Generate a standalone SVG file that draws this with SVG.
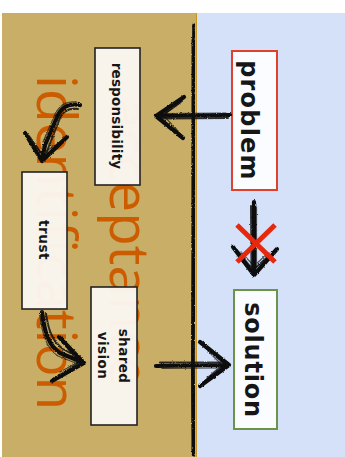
<svg xmlns="http://www.w3.org/2000/svg" width="345" height="457" viewBox="0 0 345 457">
<defs>
<filter id="rough" x="-20%" y="-20%" width="140%" height="140%">
<feTurbulence type="fractalNoise" baseFrequency="0.9" numOctaves="2" seed="3" result="n"/>
<feDisplacementMap in="SourceGraphic" in2="n" scale="2.5" xChannelSelector="R" yChannelSelector="G"/>
</filter>
<style>
.big{font-family:"Open Sans","DejaVu Sans",sans-serif;font-weight:400;font-size:55px;fill:#cc5c00}
.lbl{font-family:"DejaVu Sans","Liberation Sans",sans-serif;font-weight:bold;fill:#161616;text-anchor:middle}
.sm{font-size:13.5px}
.lg{font-size:24px}
.card{fill:#fbf8f3;fill-opacity:0.95;stroke:#222;stroke-width:1.6}
.brush{fill:none;stroke:#111;stroke-linecap:round;stroke-linejoin:round}
.w1{stroke-width:4.2}
.w2{stroke-width:2;stroke-opacity:0.85}
.w3{stroke-width:1.2;stroke-opacity:0.7}
</style>
</defs>
<rect x="0" y="0" width="345" height="457" fill="#ffffff"/>
<rect x="2" y="13" width="195" height="444" fill="#c9ae68"/>
<rect x="197" y="13" width="148" height="444" fill="#d4e1f9"/>
<line x1="196.5" y1="13" x2="196.5" y2="457" stroke="#c8951e" stroke-width="1"/>

<g id="background-text">
<text class="big" transform="translate(110,98) rotate(90)">acceptance</text>
<text class="big" transform="translate(37,75) rotate(90)">identification</text>
</g>

<g id="divider" filter="url(#rough)">
<path class="brush" stroke-width="3.6" d="M194,25 C193.5,100 194.6,200 193.4,300 S194.2,420 193.6,455"/>
<path class="brush w2" d="M192.4,40 C192,120 192.8,220 192.2,320 S192.6,420 192.4,450"/>
</g>

<g id="node-responsibility">
<rect class="card" x="95" y="48" width="45" height="137"/>
<text class="lbl sm" letter-spacing="0.2" transform="translate(112,116) rotate(90)">responsibility</text>
</g>
<g id="node-trust">
<rect class="card" x="22" y="172" width="45" height="137"/>
<text class="lbl sm" letter-spacing="0.6" transform="translate(38.5,240) rotate(90)">trust</text>
</g>
<g id="node-shared-vision">
<rect class="card" x="91" y="287" width="46" height="138"/>
<text class="lbl sm" letter-spacing="0.4" transform="translate(118.5,356) rotate(90)">shared</text>
<text class="lbl sm" letter-spacing="0.4" transform="translate(97.5,355.5) rotate(90)">vision</text>
</g>
<g id="node-problem">
<rect x="232" y="51" width="45" height="139" fill="#fbfcff" stroke="#e0412c" stroke-width="2"/>
<text class="lbl lg" letter-spacing="1.2" transform="translate(241,120.5) rotate(90)">problem</text>
</g>
<g id="node-solution">
<rect x="234" y="290" width="43" height="139" fill="#fbfcff" stroke="#6a9448" stroke-width="2"/>
<text class="lbl lg" letter-spacing="0.8" transform="translate(245,360) rotate(90)">solution</text>
</g>

<g id="connectors" filter="url(#rough)">
<g id="edge-problem-responsibility">
<path class="brush w1" d="M230,115 L156,116 M184,97 L156,116 L183,138"/>
<path class="brush w2" d="M228,118 L160,118.5 M182,101 L159,118 L180,134"/>
<path class="brush w3" d="M226,113 L162,113.5 M180,103 L163,115 L178,131"/>
</g>
<g id="edge-responsibility-trust">
<path class="brush w1" d="M80,105 C70,103 62,107 58,115 L45,145 L42,161 M25,133 L42,161 L67,137"/>
<path class="brush w2" d="M78,109 C69,108 63,111 60,118 L49,146 L45,157 M29,136 L44,157 L63,140"/>
<path class="brush w3" d="M76,102 C68,101 61,104 56,112 L43,142 M30,140 L42,154 L60,142"/>
</g>
<g id="edge-trust-shared">
<path class="brush w1" d="M42,312 C44,330 48,345 60,353 L84,363 M59,337 L84,363 L52,381"/>
<path class="brush w2" d="M46,313 C48,329 52,341 63,349 L81,359 M63,341 L80,362 L57,377"/>
<path class="brush w3" d="M40,316 C42,333 46,348 58,356 L78,364 M66,347 L78,362 L60,372"/>
</g>
<g id="edge-shared-solution">
<path class="brush w1" d="M156,366 L229,365 M200,342 L229,365 L200,386"/>
<path class="brush w2" d="M160,362.5 L225,362.5 M204,346 L225,364 L204,382"/>
<path class="brush w3" d="M162,368.5 L222,368 M208,351 L222,365 L207,378"/>
</g>
<g id="edge-problem-solution">
<path class="brush w1" d="M254,202 L254,275 M233,247 L254,275 L277,249"/>
<path class="brush w2" d="M251,206 L251.5,270 M237,250 L253,270 L273,252"/>
<path class="brush w3" d="M256.5,206 L256.5,268 M241,252 L254,266 L268,253"/>
</g>
</g>
<g id="cross">
<path d="M237,225 L275,262 M275,225 L237,262" stroke="#e6280c" stroke-width="5" fill="none"/>
</g>
</svg>
